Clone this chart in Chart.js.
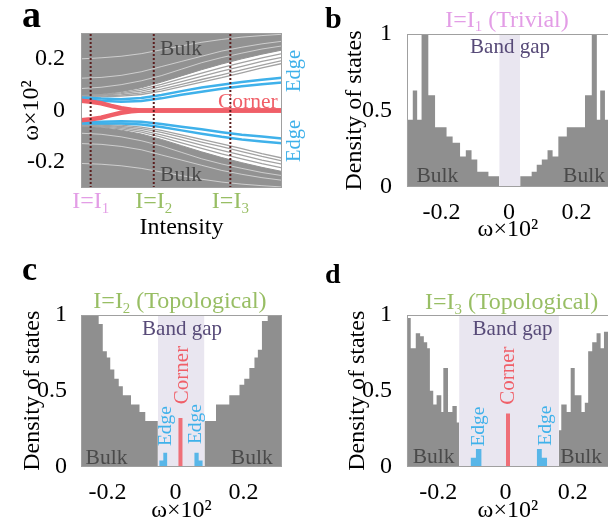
<!DOCTYPE html>
<html>
<head>
<meta charset="utf-8">
<script src="https://cdn.jsdelivr.net/npm/chart.js@4.4.1/dist/chart.umd.min.js"></script>
<style>
  html, body { margin: 0; padding: 0; background: #fff; overflow: hidden; }
  #wrap { position: relative; width: 608px; height: 530px; overflow: hidden; }
  canvas { position: absolute; }
</style>
</head>
<body>
<div id="wrap">
  <canvas id="panelA" width="310" height="255" style="left:0;top:0"></canvas>
  <canvas id="panelB" width="311" height="255" style="left:300px;top:0"></canvas>
  <canvas id="panelC" width="310" height="275" style="left:0;top:255px"></canvas>
  <canvas id="panelD" width="311" height="275" style="left:300px;top:255px"></canvas>
</div>
<script>
// ---- panel a: eigenfrequencies vs intensity ----
const intensity = [0, 0.1, 0.2, 0.3, 0.4, 0.5, 0.6, 0.7, 0.8, 0.9, 1.0];
// dense bulk (filled to the axis limit) and the outermost bulk bands
const bulkUpDense  = [0.058, 0.063, 0.073, 0.088, 0.110, 0.134, 0.158, 0.180, 0.200, 0.218, 0.234];
const bulkUpBands = [
  [0.052, 0.053, 0.056, 0.062, 0.075, 0.092, 0.110, 0.127, 0.146, 0.165, 0.182],
  [0.054, 0.056, 0.060, 0.068, 0.083, 0.101, 0.120, 0.138, 0.157, 0.176, 0.193],
  [0.056, 0.059, 0.065, 0.075, 0.092, 0.112, 0.132, 0.152, 0.171, 0.190, 0.206],
  [0.057, 0.061, 0.069, 0.082, 0.101, 0.123, 0.145, 0.166, 0.185, 0.204, 0.220]
];
const bulkUpGaps = [
  [0.085, 0.090, 0.100, 0.115, 0.135, 0.160, 0.185, 0.205, 0.222, 0.238, 0.250],
  [0.125, 0.128, 0.136, 0.150, 0.170, 0.190, 0.210, 0.230, 0.245, 0.258, 0.268],
  [0.200, 0.204, 0.210, 0.220, 0.235, 0.250, 0.264, 0.275, 0.284, 0.290, 0.295]
];
const bulkLowDense = [-0.060, -0.066, -0.076, -0.091, -0.112, -0.136, -0.160, -0.182, -0.202, -0.220, -0.236];
const bulkLowBands = [
  [-0.053, -0.054, -0.057, -0.064, -0.077, -0.094, -0.112, -0.129, -0.148, -0.167, -0.184],
  [-0.055, -0.057, -0.062, -0.070, -0.085, -0.103, -0.122, -0.140, -0.159, -0.178, -0.195],
  [-0.057, -0.060, -0.066, -0.077, -0.094, -0.114, -0.134, -0.154, -0.173, -0.192, -0.208],
  [-0.058, -0.063, -0.071, -0.084, -0.103, -0.125, -0.147, -0.168, -0.187, -0.206, -0.222]
];
const bulkLowGaps = [
  [-0.088, -0.092, -0.102, -0.117, -0.137, -0.162, -0.187, -0.207, -0.224, -0.240, -0.252],
  [-0.128, -0.131, -0.139, -0.152, -0.172, -0.192, -0.212, -0.232, -0.247, -0.260, -0.270],
  [-0.205, -0.208, -0.214, -0.224, -0.238, -0.252, -0.266, -0.277, -0.285, -0.291, -0.296]
];
const edgeUpOuter  = [0.050, 0.046, 0.044, 0.048, 0.060, 0.075, 0.089, 0.100, 0.110, 0.119, 0.127];
const edgeUpInner  = [0.045, 0.038, 0.034, 0.037, 0.047, 0.061, 0.073, 0.084, 0.094, 0.102, 0.108];
const edgeLowInner = [-0.046, -0.044, -0.042, -0.044, -0.052, -0.063, -0.073, -0.084, -0.094, -0.101, -0.108];
const edgeLowOuter = [-0.050, -0.050, -0.050, -0.054, -0.064, -0.077, -0.090, -0.102, -0.112, -0.120, -0.127];
const cornerIntensity = [0, 0.05, 0.1, 0.15, 0.2, 0.25, 0.3, 1.0];
const cornerUp  = [0.038, 0.034, 0.028, 0.018, 0.009, 0.003, 0, 0];
const cornerLow = [-0.038, -0.034, -0.028, -0.018, -0.009, -0.003, 0, 0];
const markIntensity = [0.048, 0.362, 0.743];
const markSubscripts = ['1', '2', '3'];

// ---- density of states histograms (bin edges, heights) ----
const bBulkLeftEdges = [-0.303, -0.285, -0.272, -0.259, -0.239, -0.219, -0.199, -0.185, -0.167, -0.145, -0.128, -0.111, -0.094, -0.061, -0.029];
const bBulkLeftDos   = [0.44, 0.63, 0.44, 1.0, 0.60, 0.39, 0.39, 0.33, 0.29, 0.20, 0.24, 0.18, 0.10, 0.07];
const bBulkRightEdges = [0.033, 0.067, 0.082, 0.097, 0.114, 0.129, 0.146, 0.171, 0.191, 0.210, 0.225, 0.245, 0.260, 0.270, 0.284, 0.296];
const bBulkRightDos   = [0.07, 0.10, 0.146, 0.18, 0.24, 0.20, 0.33, 0.39, 0.39, 0.39, 0.60, 1.0, 0.44, 0.63, 0.44];
const bGap = [-0.029, 0.033];

const cBulkLeftEdges = [-0.278, -0.226, -0.214, -0.202, -0.192, -0.180, -0.167, -0.155, -0.131, -0.106, -0.089, -0.052];
const cBulkLeftDos   = [1.0, 0.94, 0.76, 0.72, 0.64, 0.58, 0.53, 0.47, 0.41, 0.36, 0.30];
const cBulkRightEdges = [0.085, 0.119, 0.158, 0.188, 0.202, 0.217, 0.232, 0.242, 0.254, 0.271, 0.313];
const cBulkRightDos   = [0.30, 0.41, 0.47, 0.54, 0.58, 0.65, 0.72, 0.77, 0.96, 1.0];
const cEdgeLeftEdges = [-0.048, -0.036, -0.024];
const cEdgeLeftDos   = [0.04, 0.09];
const cEdgeRightEdges = [0.055, 0.068, 0.080];
const cEdgeRightDos   = [0.09, 0.04];
const cCornerEdges = [0.008, 0.021];
const cCornerDos   = [0.32];
const cGap = [-0.052, 0.085];

const dBulkLeftEdges = [-0.294, -0.282, -0.267, -0.254, -0.243, -0.233, -0.225, -0.215, -0.205, -0.191, -0.185, -0.171, -0.158, -0.145, -0.138];
const dBulkLeftDos   = [0.98, 0.78, 0.88, 0.86, 0.82, 0.78, 0.50, 0.41, 0.47, 0.36, 0.65, 0.36, 0.40, 0.29];
const dBulkRightEdges = [0.159, 0.166, 0.182, 0.194, 0.206, 0.226, 0.236, 0.246, 0.258, 0.271, 0.283, 0.293, 0.308];
const dBulkRightDos   = [0.24, 0.41, 0.36, 0.65, 0.47, 0.36, 0.42, 0.76, 0.82, 0.88, 0.78, 0.89];
const dEdgeLeftEdges = [-0.104, -0.088, -0.071];
const dEdgeLeftDos   = [0.057, 0.115];
const dEdgeRightEdges = [0.093, 0.108, 0.124];
const dEdgeRightDos   = [0.115, 0.057];
const dCornerEdges = [0.0015, 0.0134];
const dCornerDos   = [0.35];
const dGap = [-0.138, 0.159];

const omegaTicks = [-0.2, 0, 0.2];
const dosTicks = [0, 0.5, 1];

const SERIF = "'Liberation Serif', 'Times New Roman', 'DejaVu Serif', serif";
Chart.defaults.font.family = SERIF;
Chart.defaults.font.size = 24;
Chart.defaults.color = '#000';

const GRAY = '#8f8f8f', GAP = '#e9e6f0', BLUE = '#3fb1ea', RED = '#f05f68';
const PINK = '#e39de6', GREEN = '#98be64', GAPTXT = '#574a78', BULKTXT = '#4a4a4a';

// text annotations + axes box
function drawParts(ctx, it) {
  const size = it.size || 21;
  const parts = it.parts || [{ t: it.text }];
  const fontOf = p => (it.bold ? 'bold ' : '') + (p.sub ? size * 0.62 : size) + 'px ' + SERIF;
  let w = 0;
  parts.forEach(p => { ctx.font = fontOf(p); w += ctx.measureText(p.t).width; });
  let x = it.align === 'left' ? 0 : -w / 2;
  ctx.fillStyle = it.color || '#000';
  ctx.textBaseline = it.baseline || 'middle';
  ctx.textAlign = 'left';
  parts.forEach(p => {
    ctx.font = fontOf(p);
    ctx.fillText(p.t, x, p.sub ? size * 0.28 : 0);
    x += ctx.measureText(p.t).width;
  });
}
const notesPlugin = {
  id: 'notes',
  afterDraw(chart, args, opts) {
    const ctx = chart.ctx, a = chart.chartArea;
    const xs = chart.scales.x, ys = chart.scales.y;
    ctx.save();
    ctx.strokeStyle = opts.box || '#a0a0a0';
    ctx.lineWidth = 1;
    ctx.strokeRect(Math.round(a.left) + 0.5, Math.round(a.top) + 0.5, Math.round(a.width) - 1, Math.round(a.height) - 1);
    ctx.restore();
    (opts.items || []).forEach(it => {
      const px = it.px !== undefined ? it.px : xs.getPixelForValue(it.x);
      const py = it.py !== undefined ? it.py : ys.getPixelForValue(it.y);
      ctx.save();
      ctx.translate(px, py);
      if (it.rotate) ctx.rotate(-Math.PI / 2);
      drawParts(ctx, it);
      ctx.restore();
    });
  }
};

const pts = (xs, ys) => xs.map((x, i) => ({ x: x, y: ys[i] }));
function histogram(edges, dos) {
  const p = dos.map((v, i) => ({ x: edges[i], y: v }));
  p.push({ x: edges[edges.length - 1], y: 0 });
  return p;
}
function histSet(edges, dos, color) {
  return { data: histogram(edges, dos), stepped: true, fill: 'origin', backgroundColor: color,
           borderColor: 'rgba(0,0,0,0)', borderWidth: 0, pointRadius: 0 };
}
// list is bottom-to-top; Chart.js draws the lowest order last
function layered(list) {
  return list.map((d, i) => Object.assign({ order: list.length - i }, d));
}

function baseOptions(cfg) {
  return {
    responsive: false,
    animation: false,
    events: [],
    layout: { padding: { left: 0, top: cfg.top, right: cfg.right, bottom: 0 } },
    plugins: { legend: { display: false }, tooltip: { enabled: false }, notes: { items: cfg.items } },
    scales: {
      x: {
        type: 'linear', min: cfg.xmin, max: cfg.xmax,
        afterFit: s => { s.height = cfg.xAxisH; },
        afterBuildTicks: s => { s.ticks = cfg.xTicks.map(v => ({ value: v })); },
        grid: { display: false }, border: { display: false },
        ticks: { display: cfg.xTickShow !== false, padding: cfg.xTickPad, maxRotation: 0, autoSkip: false,
                 callback: v => String(v) },
        title: { display: true, text: cfg.xTitle, padding: { top: 0, bottom: cfg.xTitlePad } }
      },
      y: {
        type: 'linear', min: cfg.ymin, max: cfg.ymax,
        afterFit: s => { s.width = cfg.left; },
        afterBuildTicks: s => { s.ticks = cfg.yTicks.map(v => ({ value: v })); },
        grid: { display: false }, border: { display: false },
        ticks: { padding: cfg.yTickPad, callback: v => String(v) },
        title: { display: true, text: cfg.yTitle, padding: { top: cfg.yTitlePad, bottom: 0 } }
      }
    }
  };
}

// ---------- panel a ----------
const markSets = markIntensity.map(v => ({
  data: [{ x: v, y: -0.3 }, { x: v, y: 0.3 }], borderColor: '#5b1f1f', borderWidth: 2,
  borderDash: [2, 2], pointRadius: 0, fill: false
}));
const bandLine = (ys, color, width) => ({ data: pts(intensity, ys), borderColor: color, borderWidth: width, pointRadius: 0, fill: false });
const bulkFill = (ys, color, to) => ({ data: pts(intensity, ys), borderColor: color, borderWidth: 1,
  backgroundColor: color, pointRadius: 0, fill: to });
const markItems = markIntensity.map((v, i) => ({
  parts: [{ t: 'I=I' }, { t: markSubscripts[i], sub: true }], x: v, py: 202, size: 24,
  color: i === 0 ? PINK : GREEN
}));

new Chart(document.getElementById('panelA'), {
  type: 'line',
  data: { datasets: layered([
    bulkFill(bulkUpDense, '#929292', 'end'),
    bulkFill(bulkLowDense, '#929292', 'start')
  ].concat(
    bulkUpBands.concat(bulkLowBands).map(b => bandLine(b, '#a2a2a2', 1.3)),
    bulkUpGaps.concat(bulkLowGaps).map(b => bandLine(b, 'rgba(255,255,255,0.55)', 1)),
    [
      bandLine(edgeUpOuter, BLUE, 2.5),
      bandLine(edgeUpInner, BLUE, 2.5),
      bandLine(edgeLowInner, BLUE, 2.5),
      bandLine(edgeLowOuter, BLUE, 2.5),
      { data: pts(cornerIntensity, cornerUp), borderColor: RED, borderWidth: 4.5, pointRadius: 0, fill: false },
      { data: pts(cornerIntensity, cornerLow), borderColor: RED, borderWidth: 4.5, pointRadius: 0, fill: false }
    ],
    markSets)) },
  options: baseOptions({
    top: 33, right: 28, left: 81, xAxisH: 67,
    xmin: 0, xmax: 1, ymin: -0.3, ymax: 0.3,
    xTicks: markIntensity, yTicks: omegaTicks, xTickShow: false,
    xTickPad: 0, yTickPad: 8, xTitle: 'Intensity', xTitlePad: 12.6,
    yTitle: 'ω×10²', yTitlePad: 17.6,
    items: markItems.concat([
      { text: 'Bulk', x: 0.4975, y: 0.236, size: 21.5, color: BULKTXT },
      { text: 'Bulk', x: 0.4975, y: -0.25, size: 21.5, color: BULKTXT },
      { text: 'Corner', x: 0.83, y: 0.031, size: 21.5, color: RED },
      { text: 'Edge', x: 1.062, y: 0.153, size: 20.5, color: BLUE, rotate: true },
      { text: 'Edge', x: 1.062, y: -0.118, size: 20.5, color: BLUE, rotate: true },
      { text: 'a', px: 22, py: 27, size: 38, bold: true, align: 'left', baseline: 'alphabetic' }
    ])
  }),
  plugins: [notesPlugin]
});

// ---------- panels b, c, d ----------
function dosChart(id, sets, cfg) {
  new Chart(document.getElementById(id), {
    type: 'line',
    data: { datasets: layered(sets) },
    options: baseOptions(Object.assign({
      ymin: 0, ymax: 1, xTicks: omegaTicks, yTicks: dosTicks,
      xTitle: 'ω×10²', yTitle: 'Density of states'
    }, cfg)),
    plugins: [notesPlugin]
  });
}

dosChart('panelB', [
  histSet(bGap, [1], GAP),
  histSet(bBulkLeftEdges, bBulkLeftDos, GRAY),
  histSet(bBulkRightEdges, bBulkRightDos, GRAY)
], {
  top: 34, right: 2, left: 106.7, xAxisH: 68, xmin: -0.303, xmax: 0.296,
  xTickPad: 3.6, yTickPad: 6.7, xTitlePad: 10.6, yTitlePad: 40.6,
  items: [
    { parts: [{ t: 'I=I' }, { t: '1', sub: true }, { t: ' (Trivial)' }], x: -0.006, y: 1.09, size: 24, color: PINK },
    { text: 'Band gap', x: 0.003, y: 0.915, size: 21, color: GAPTXT },
    { text: 'Bulk', x: -0.212, y: 0.072, size: 21.5, color: BULKTXT },
    { text: 'Bulk', x: 0.222, y: 0.072, size: 21.5, color: BULKTXT },
    { text: 'b', px: 25, py: 28, size: 30, bold: true, align: 'left', baseline: 'alphabetic' }
  ]
});

dosChart('panelC', [
  histSet(cGap, [1], GAP),
  histSet(cBulkLeftEdges, cBulkLeftDos, GRAY),
  histSet(cBulkRightEdges, cBulkRightDos, GRAY),
  histSet(cEdgeLeftEdges, cEdgeLeftDos, '#58b6e8'),
  histSet(cEdgeRightEdges, cEdgeRightDos, '#58b6e8'),
  histSet(cCornerEdges, cCornerDos, '#ef6f78')
], {
  top: 60, right: 28, left: 81, xAxisH: 63.5, xmin: -0.278, xmax: 0.313,
  xTickPad: 4.1, yTickPad: 6, xTitlePad: 4.6, yTitlePad: 18.6,
  items: [
    { parts: [{ t: 'I=I' }, { t: '2', sub: true }, { t: ' (Topological)' }], x: 0.013, y: 1.086, size: 24, color: GREEN },
    { text: 'Band gap', x: 0.019, y: 0.904, size: 21, color: GAPTXT },
    { text: 'Bulk', x: -0.203, y: 0.053, size: 21.5, color: BULKTXT },
    { text: 'Bulk', x: 0.224, y: 0.053, size: 21.5, color: BULKTXT },
    { text: 'Corner', x: 0.021, y: 0.604, size: 21, color: RED, rotate: true },
    { text: 'Edge', x: -0.029, y: 0.267, size: 19.5, color: BLUE, rotate: true },
    { text: 'Edge', x: 0.059, y: 0.28, size: 19.5, color: BLUE, rotate: true },
    { text: 'c', px: 22, py: 25, size: 34, bold: true, align: 'left', baseline: 'alphabetic' }
  ]
});

dosChart('panelD', [
  histSet(dGap, [1], GAP),
  histSet(dBulkLeftEdges, dBulkLeftDos, GRAY),
  histSet(dBulkRightEdges, dBulkRightDos, GRAY),
  histSet(dEdgeLeftEdges, dEdgeLeftDos, '#58b6e8'),
  histSet(dEdgeRightEdges, dEdgeRightDos, '#58b6e8'),
  histSet(dCornerEdges, dCornerDos, '#ef6f78')
], {
  top: 60, right: 2, left: 106.7, xAxisH: 63.5, xmin: -0.294, xmax: 0.308,
  xTickPad: 4.1, yTickPad: 6.7, xTitlePad: 4.6, yTitlePad: 43.6,
  items: [
    { parts: [{ t: 'I=I' }, { t: '3', sub: true }, { t: ' (Topological)' }], x: 0.018, y: 1.079, size: 24, color: GREEN },
    { text: 'Band gap', x: 0.021, y: 0.904, size: 21, color: GAPTXT },
    { text: 'Bulk', x: -0.214, y: 0.059, size: 21.5, color: BULKTXT },
    { text: 'Bulk', x: 0.225, y: 0.059, size: 21.5, color: BULKTXT },
    { text: 'Corner', x: 0.010, y: 0.6, size: 21, color: RED, rotate: true },
    { text: 'Edge', x: -0.079, y: 0.264, size: 19.5, color: BLUE, rotate: true },
    { text: 'Edge', x: 0.12, y: 0.27, size: 19.5, color: BLUE, rotate: true },
    { text: 'd', px: 25, py: 28, size: 28, bold: true, align: 'left', baseline: 'alphabetic' }
  ]
});
</script>
</body>
</html>
